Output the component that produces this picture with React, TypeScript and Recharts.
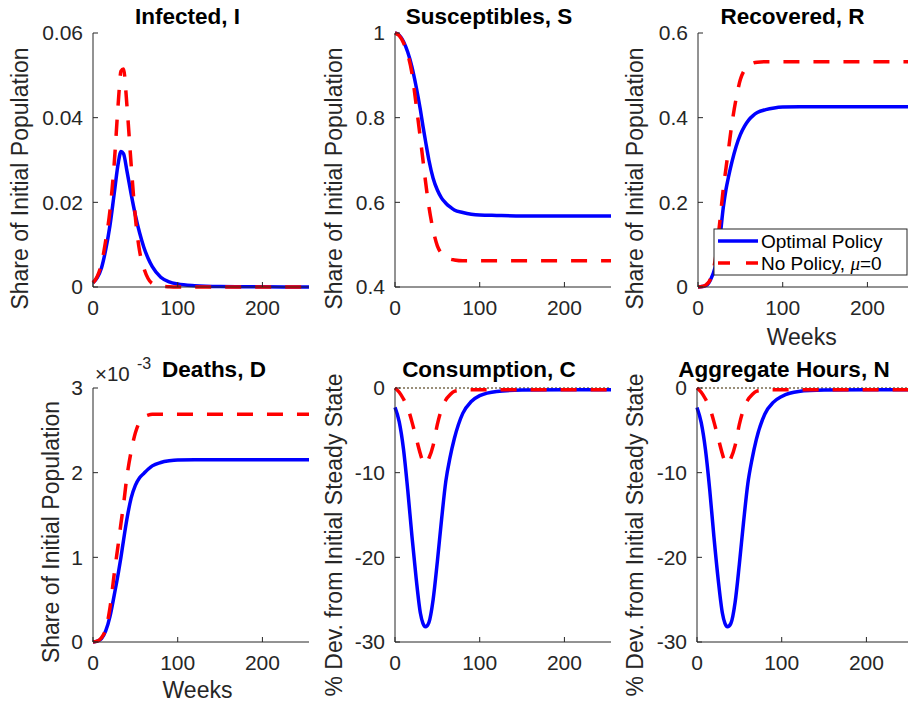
import React from "react";
import { LineChart, Line, XAxis, YAxis, ReferenceLine } from "recharts";

const WEEKS = [0, 5, 10, 15, 20, 25, 30, 33, 36, 40, 45, 50, 55, 60, 65, 70, 80, 90, 100, 120, 150, 200, 255];

// Infected, I
const OPT_I = [0.001, 0.0022, 0.0045, 0.0088, 0.0145, 0.022, 0.0295, 0.032, 0.0315, 0.0275, 0.022, 0.017, 0.0128, 0.0094, 0.0068, 0.0048, 0.0023, 0.0012, 0.0007, 0.0003, 0.0001, 0.00003, 0];
const NO_I = [0.001, 0.0025, 0.0055, 0.011, 0.018, 0.029, 0.044, 0.051, 0.0515, 0.043, 0.029, 0.0165, 0.0085, 0.0045, 0.002, 0.0008, 0.0002, 0.00005, 0, 0, 0, 0, 0];

// Susceptibles, S
const OPT_S = [1, 0.995, 0.98, 0.955, 0.92, 0.873, 0.818, 0.78, 0.745, 0.7, 0.657, 0.629, 0.61, 0.598, 0.589, 0.582, 0.576, 0.572, 0.57, 0.569, 0.568, 0.568, 0.568];
const NO_S = [1, 0.994, 0.977, 0.95, 0.905, 0.83, 0.75, 0.7, 0.65, 0.59, 0.535, 0.497, 0.479, 0.47, 0.466, 0.464, 0.462, 0.462, 0.462, 0.462, 0.462, 0.462, 0.462];

// Recovered, R
const OPT_R = [0, 0.001, 0.004, 0.018, 0.045, 0.1, 0.19, 0.23, 0.26, 0.295, 0.332, 0.36, 0.38, 0.395, 0.405, 0.412, 0.419, 0.423, 0.425, 0.426, 0.426, 0.426, 0.426];
const NO_R = [0, 0.001, 0.006, 0.02, 0.06, 0.14, 0.235, 0.28, 0.325, 0.385, 0.445, 0.49, 0.513, 0.524, 0.529, 0.531, 0.532, 0.532, 0.532, 0.532, 0.532, 0.532, 0.532];

// Deaths, D (x 10^-3)
const OPT_D = [0, 0.01, 0.04, 0.13, 0.3, 0.55, 0.82, 1.0, 1.2, 1.45, 1.7, 1.85, 1.94, 1.99, 2.04, 2.08, 2.12, 2.14, 2.15, 2.152, 2.152, 2.152, 2.152];
const NO_D = [0, 0.01, 0.05, 0.15, 0.4, 0.8, 1.17, 1.4, 1.62, 1.95, 2.25, 2.47, 2.6, 2.655, 2.68, 2.69, 2.69, 2.69, 2.69, 2.69, 2.69, 2.69, 2.69];

// Consumption, C (% dev.)
const OPT_C = [-2.3, -4.0, -7.2, -12, -17.5, -22.5, -26.6, -27.8, -28.2, -27.7, -25, -20.5, -15.5, -11, -8.2, -6, -3, -1.6, -0.9, -0.4, -0.25, -0.2, -0.2];
const NO_C = [0, -0.5, -1.3, -2.3, -4.0, -5.9, -7.8, -8.7, -9.0, -8.3, -6.8, -4.3, -2.5, -1.4, -0.8, -0.4, -0.25, -0.2, -0.2, -0.2, -0.2, -0.2, -0.2];

// Aggregate Hours, N (% dev.)
const OPT_N = [-2.3, -4.1, -7.3, -12, -17.6, -22.6, -26.6, -27.8, -28.2, -27.8, -25.3, -20.8, -15.8, -11.3, -8.4, -6.1, -3.1, -1.7, -1.0, -0.4, -0.25, -0.2, -0.2];
const NO_N = [0, -0.5, -1.3, -2.3, -4.0, -5.9, -7.8, -8.7, -9.0, -8.3, -6.8, -4.3, -2.5, -1.4, -0.8, -0.4, -0.25, -0.2, -0.2, -0.2, -0.2, -0.2, -0.2];

const X_TICKS = [0, 100, 200];

const FONT = "'Liberation Sans', Arial, Helvetica, sans-serif";
const INK = "#262626";
const BLUE = "#0000ff";
const RED = "#ff0000";

const YW = 90;
const MT = 20;
const XH = 40;
const PW = 216;
const PH = 254;

const rows = (a: number[], b: number[]) =>
  WEEKS.map((w, i) => ({ week: w, opt: a[i], no: b[i] }));

const fmtNum = (v: number) => {
  const r = Math.round(v * 1000) / 1000;
  return r === 0 ? "0" : String(r);
};

interface PanelProps {
  left: number;
  top: number;
  data: { week: number; opt: number; no: number }[];
  domain: [number, number];
  ticks: number[];
  zero?: boolean;
}

const Panel = ({ left, top, data, domain, ticks, zero }: PanelProps) => (
  <div style={{ position: "absolute", left: left - YW, top: top - MT }}>
    <LineChart
      width={YW + PW + 4}
      height={MT + PH + XH}
      data={data}
      margin={{ top: MT, right: 4, bottom: 0, left: 0 }}
    >
      <XAxis
        dataKey="week"
        type="number"
        domain={[0, 255]}
        ticks={X_TICKS}
        interval={0}
        height={XH}
        tickSize={-5}
        tickMargin={18}
        stroke={INK}
        tick={{ fill: INK, fontSize: 21, fontFamily: FONT }}
      />
      <YAxis
        type="number"
        domain={domain}
        ticks={ticks}
        interval={0}
        width={YW}
        tickSize={-5}
        tickMargin={15}
        stroke={INK}
        tickFormatter={fmtNum}
        tick={{ fill: INK, fontSize: 21, fontFamily: FONT }}
      />
      {zero && (
        <ReferenceLine y={0} stroke="#9a8f7a" strokeWidth={2} strokeDasharray="2 2" />
      )}
      <Line
        type="monotone"
        dataKey="opt"
        stroke={BLUE}
        strokeWidth={3.5}
        dot={false}
        isAnimationActive={false}
      />
      <Line
        type="monotone"
        dataKey="no"
        stroke={RED}
        strokeWidth={3.5}
        strokeDasharray="16 14"
        dot={false}
        isAnimationActive={false}
      />
    </LineChart>
  </div>
);

const TITLES = [
  { text: "Infected, I", x: 187.5, y: 23.5 },
  { text: "Susceptibles, S", x: 489, y: 23.5 },
  { text: "Recovered, R", x: 792.5, y: 23.5 },
  { text: "Deaths, D", x: 214, y: 376.5 },
  { text: "Consumption, C", x: 489, y: 376.5 },
  { text: "Aggregate Hours, N", x: 784, y: 376.5 },
];

const Y_LABELS = [
  { text: "Share of Initial Population", x: 22, y: 178.5 },
  { text: "Share of Initial Population", x: 336, y: 178.5 },
  { text: "Share of Initial Population", x: 637.5, y: 178.5 },
  { text: "Share of Initial Population", x: 53, y: 532 },
  { text: "% Dev. from Initial Steady State", x: 336.5, y: 535 },
  { text: "% Dev. from Initial Steady State", x: 636.7, y: 535 },
];

const Overlay = () => (
  <svg
    width={908}
    height={706}
    style={{ position: "absolute", left: 0, top: 0, pointerEvents: "none" }}
    fontFamily={FONT}
  >
    {TITLES.map((t) => (
      <text key={t.text} x={t.x} y={t.y} textAnchor="middle" fontSize={22.5} fontWeight="bold" fill="#000">
        {t.text}
      </text>
    ))}
    {Y_LABELS.map((t, i) => (
      <text
        key={i}
        x={t.x + 5.8}
        y={t.y}
        transform={`rotate(-90 ${t.x + 5.8} ${t.y})`}
        textAnchor="middle"
        fontSize={23}
        fill={INK}
      >
        {t.text}
      </text>
    ))}
    <text x={801.7} y={345} textAnchor="middle" fontSize={23} fill={INK}>Weeks</text>
    <text x={197.5} y={698} textAnchor="middle" fontSize={23} fill={INK}>Weeks</text>
    <text x={95} y={380.5} fontSize={20.5} fill={INK}>×10</text>
    <text x={137} y={369} fontSize={16} fill={INK}>-3</text>

    <g transform="translate(714 229)">
      <rect x={0} y={0} width={193} height={46} fill="#fff" stroke={INK} strokeWidth={1} />
      <line x1={4} y1={12} x2={44} y2={12} stroke={BLUE} strokeWidth={3.5} />
      <line x1={4} y1={34} x2={44} y2={34} stroke={RED} strokeWidth={3.5} strokeDasharray="12 16" />
      <text x={47} y={18.5} fontSize={19} fill="#000">Optimal Policy</text>
      <text x={47} y={40.5} fontSize={19} fill="#000">
        No Policy,{"  "}
        <tspan fontFamily="'Liberation Serif', 'Times New Roman', serif" fontStyle="italic">μ</tspan>
        =0
      </text>
    </g>
  </svg>
);

export default function App() {
  return (
    <div
      style={{
        position: "fixed",
        left: 0,
        top: 0,
        width: 908,
        height: 706,
        overflow: "hidden",
        background: "#fff",
        fontFamily: FONT,
      }}
    >
      <Panel left={93} top={33} data={rows(OPT_I, NO_I)} domain={[0, 0.06]} ticks={[0, 0.02, 0.04, 0.06]} />
      <Panel left={395} top={33} data={rows(OPT_S, NO_S)} domain={[0.4, 1]} ticks={[0.4, 0.6, 0.8, 1]} />
      <Panel left={698} top={33} data={rows(OPT_R, NO_R)} domain={[0, 0.6]} ticks={[0, 0.2, 0.4, 0.6]} />
      <Panel left={93} top={388} data={rows(OPT_D, NO_D)} domain={[0, 3]} ticks={[0, 1, 2, 3]} />
      <Panel left={395} top={388} data={rows(OPT_C, NO_C)} domain={[-30, 0]} ticks={[-30, -20, -10, 0]} zero />
      <Panel left={697} top={388} data={rows(OPT_N, NO_N)} domain={[-30, 0]} ticks={[-30, -20, -10, 0]} zero />
      <Overlay />
    </div>
  );
}
